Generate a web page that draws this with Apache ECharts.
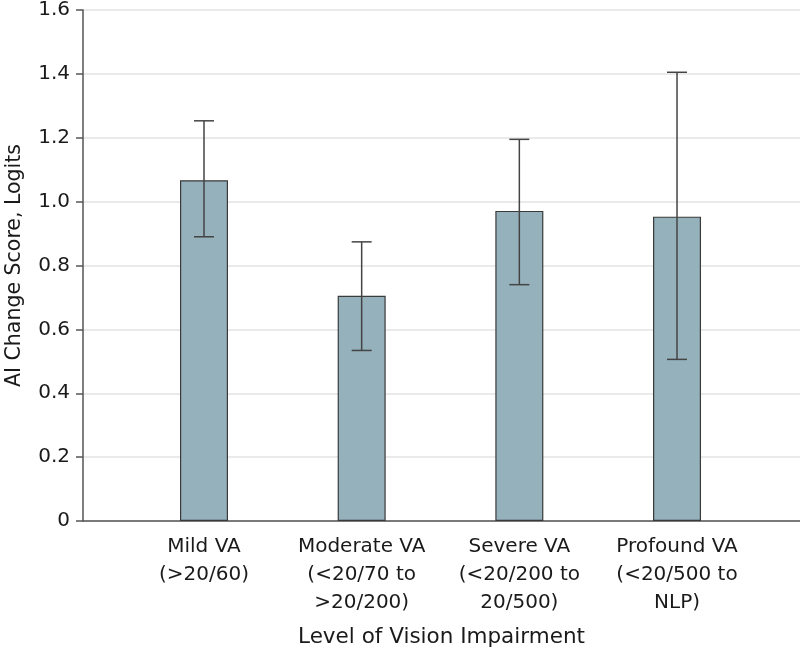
<!DOCTYPE html>
<html>
<head>
<meta charset="utf-8">
<script src="https://cdn.jsdelivr.net/npm/echarts@6/dist/echarts.min.js"></script>
<style>html,body{margin:0;padding:0;background:#fff}#c{width:800px;height:653px}</style>
</head>
<body>
<div id="c"></div>
<script>
// ---- data ----
const categories = ['Mild VA\n(>20/60)', 'Moderate VA\n(<20/70 to\n>20/200)', 'Severe VA\n(<20/200 to\n20/500)', 'Profound VA\n(<20/500 to\nNLP)'];
const positions = [1, 2, 3, 4];
const means = [1.067, 0.705, 0.971, 0.953];
const lower = [0.890, 0.534, 0.740, 0.506];
const upper = [1.253, 0.874, 1.195, 1.405];
const yTickValues = [0, 0.2, 0.4, 0.6, 0.8, 1.0, 1.2, 1.4, 1.6];
const xTitle = 'Level of Vision Impairment';
const yTitle = 'AI Change Score, Logits';

const FONT = 'DejaVu Sans';
const chart = echarts.init(document.getElementById('c'), null, {renderer: 'canvas'});
chart.setOption({
  animation: false,
  backgroundColor: '#fff',
  grid: {left: 83, right: 0, top: 10, bottom: 132, containLabel: false, outerBoundsMode: 'none'},
  xAxis: {
    type: 'value',
    min: 0.2326, max: 4.78,
    axisLine: {show: true, onZero: false, lineStyle: {color: '#555', width: 1.5}},
    axisTick: {show: false},
    splitLine: {show: false},
    axisLabel: {
      customValues: positions,
      formatter: v => categories[positions.indexOf(v)] || '',
      color: '#1a1a1a', fontFamily: FONT, fontSize: 20, lineHeight: 28, margin: 12, align: 'center'
    },
    name: xTitle, nameLocation: 'middle', nameGap: 105,
    nameTextStyle: {color: '#1a1a1a', fontFamily: FONT, fontSize: 21.5}
  },
  yAxis: {
    type: 'value', min: 0, max: 1.6, interval: 0.2,
    axisLine: {show: true, lineStyle: {color: '#555', width: 1.5}},
    axisTick: {show: true, length: 7, lineStyle: {color: '#555', width: 1.5}},
    splitLine: {show: true, lineStyle: {color: '#e3e3e3', width: 1.5}},
    axisLabel: {
      formatter: v => v === 0 ? '0' : v.toFixed(1),
      color: '#1a1a1a', fontFamily: FONT, fontSize: 20, margin: 13
    },
    name: yTitle, nameLocation: 'middle', nameGap: 58,
    nameTextStyle: {color: '#1a1a1a', fontFamily: FONT, fontSize: 20.5}
  },
  series: [
    {
      type: 'bar',
      barWidth: 48,
      data: positions.map((p, i) => [p, means[i]]),
      itemStyle: {color: '#95b1bc', borderColor: '#3a3a3a', borderWidth: 1.2},
      z: 2
    },
    {
      type: 'custom',
      z: 5,
      data: positions.map((p, i) => [p, lower[i], upper[i]]),
      renderItem: (params, api) => {
        const x = api.value(0);
        const lo = api.coord([x, api.value(1)]);
        const hi = api.coord([x, api.value(2)]);
        const hw = 10;
        const st = {stroke: '#444', lineWidth: 1.5};
        return {
          type: 'group',
          children: [
            {type: 'line', shape: {x1: lo[0], y1: lo[1], x2: hi[0], y2: hi[1]}, style: st},
            {type: 'line', shape: {x1: hi[0] - hw, y1: hi[1], x2: hi[0] + hw, y2: hi[1]}, style: st},
            {type: 'line', shape: {x1: lo[0] - hw, y1: lo[1], x2: lo[0] + hw, y2: lo[1]}, style: st}
          ]
        };
      }
    }
  ]
});
</script>
</body>
</html>
